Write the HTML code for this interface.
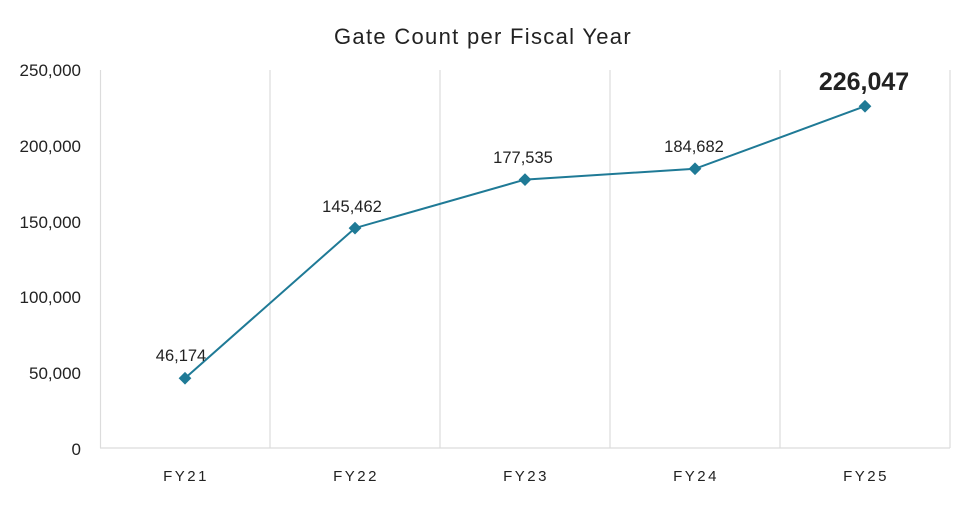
<!DOCTYPE html>
<html><head><meta charset="utf-8"><style>
body{margin:0;background:#fff;}
text{font-family:"Liberation Sans",sans-serif;fill:#222;}
</style></head><body>
<svg width="958" height="502" viewBox="0 0 958 502" xmlns="http://www.w3.org/2000/svg">
<text x="483" y="44" text-anchor="middle" font-size="22" letter-spacing="1.3">Gate Count per Fiscal Year</text>
<g stroke="#dcdcdc" stroke-width="1.2">
<line x1="100.5" y1="70" x2="100.5" y2="448"/>
<line x1="270" y1="70" x2="270" y2="448"/>
<line x1="440" y1="70" x2="440" y2="448"/>
<line x1="610" y1="70" x2="610" y2="448"/>
<line x1="780" y1="70" x2="780" y2="448"/>
<line x1="950" y1="70" x2="950" y2="448"/>
<line x1="100" y1="448" x2="950" y2="448"/>
</g>
<g font-size="17" text-anchor="end">
<text x="81" y="76">250,000</text>
<text x="81" y="152">200,000</text>
<text x="81" y="228">150,000</text>
<text x="81" y="303">100,000</text>
<text x="81" y="379">50,000</text>
<text x="81" y="455">0</text>
</g>
<g font-size="15" text-anchor="middle" letter-spacing="2.5">
<text x="186" y="481">FY21</text>
<text x="356" y="481">FY22</text>
<text x="526" y="481">FY23</text>
<text x="696" y="481">FY24</text>
<text x="866" y="481">FY25</text>
</g>
<polyline points="185,378.2 355,228.1 525,179.6 695,168.8 865,106.2" fill="none" stroke="#1f7a96" stroke-width="2"/>
<g fill="#1f7a96">
<rect x="180.5" y="373.7" width="9" height="9" transform="rotate(45 185 378.2)"/>
<rect x="350.5" y="223.6" width="9" height="9" transform="rotate(45 355 228.1)"/>
<rect x="520.5" y="175.1" width="9" height="9" transform="rotate(45 525 179.6)"/>
<rect x="690.5" y="164.3" width="9" height="9" transform="rotate(45 695 168.8)"/>
<rect x="860.5" y="101.7" width="9" height="9" transform="rotate(45 865 106.2)"/>
</g>
<g font-size="16.5" text-anchor="middle">
<text x="181" y="361">46,174</text>
<text x="352" y="212">145,462</text>
<text x="523" y="163">177,535</text>
<text x="694" y="152">184,682</text>
<text x="864" y="90" font-size="25" font-weight="bold">226,047</text>
</g>
</svg>
</body></html>
